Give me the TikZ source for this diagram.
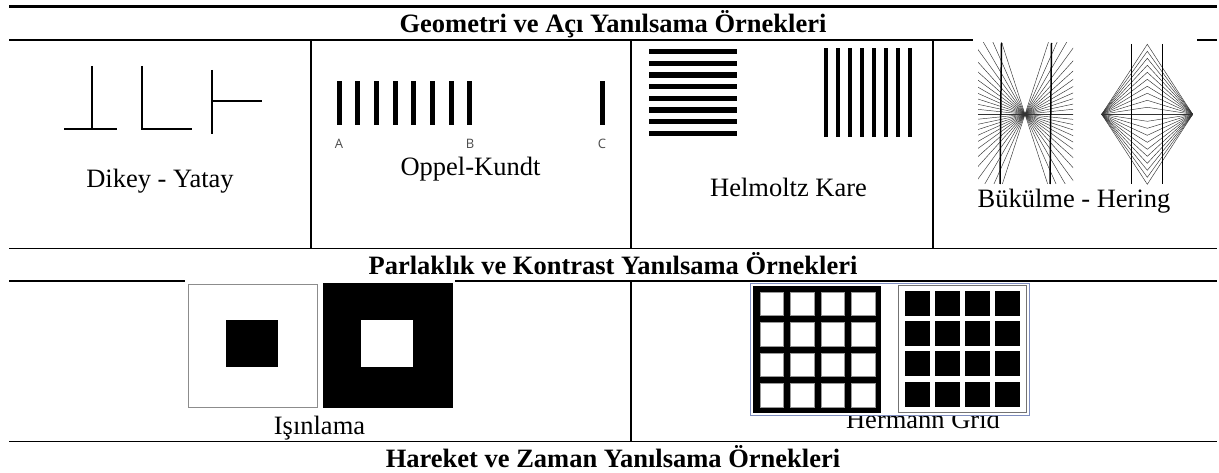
\documentclass[tikz,border=0pt]{standalone}
\usepackage{fontspec}
\setmainfont{Liberation Serif}
\newfontfamily\labfont{Open Sans}
\definecolor{hframe}{RGB}{125,140,190}
\begin{document}
\begin{tikzpicture}[x=1pt,y=-1pt,
  tabrule/.style={line width=1.7pt},
  tabvrule/.style={line width=1.5pt},
  hdrtxt/.style={anchor=base,inner sep=0pt,font=\fontsize{26.5}{30}\selectfont\bfseries},
  captxt/.style={anchor=base,inner sep=0pt,font=\fontsize{26.5}{30}\selectfont},
  abctxt/.style={anchor=base,inner sep=0pt,font=\labfont\fontsize{13}{15}\selectfont,text=black!70},
  fineline/.style={line width=0.45pt,black!80},
  strokeline/.style={line width=2pt},
  heavyline/.style={line width=1.5pt},
]
\useasboundingbox (0,0) rectangle (1219,473);
\fill[white] (0,0) rectangle (1219,473);

% table rules
\draw[line width=3pt] (9,6.5) -- (1217,6.5);
\draw[tabrule] (9,39.8) -- (1217,39.8);
\draw[tabrule] (9,248.4) -- (1217,248.4);
\draw[tabrule] (9,281) -- (1217,281);
\draw[tabrule] (9,441.5) -- (1217,441.5);
\draw[tabvrule] (311,39.8) -- (311,248.4) (631,39.8) -- (631,248.4) (933,39.8) -- (933,248.4) (631,281) -- (631,441.5);

% headers
\node[hdrtxt] (h1) at (613,33) {Geometri ve Açı Yanılsama Örnekleri};
\node[hdrtxt] (h2) at (613,274.3) {Parlaklık ve Kontrast Yanılsama Örnekleri};
\node[hdrtxt] (h3) at (613,467) {Hareket ve Zaman Yanılsama Örnekleri};

% Dikey - Yatay
\draw[strokeline] (64,129) -- (117,129) (92,66) -- (92,129);
\draw[strokeline] (142,66) -- (142,129) -- (192,129);
\draw[strokeline] (212,70) -- (212,134) (212,101) -- (262,101);
\node[captxt] (c1) at (160,188) {Dikey - Yatay};

% Oppel-Kundt
\foreach \i in {0,...,7} \fill ({339+18.7*\i-2.5},81) rectangle ++(5,44);
\fill (599.5,81) rectangle ++(5,44);
\node[abctxt] (la) at (339,148.3) {A};
\node[abctxt] (lb) at (470,148.3) {B};
\node[abctxt] (lc) at (602,148.3) {C};
\node[captxt] (c2) at (470.5,176) {Oppel-Kundt};

% Helmoltz
\foreach \i in {0,...,7} \fill (649,{51.7+11.66*\i-2.7}) rectangle ++(88,5.4);
\foreach \i in {0,...,7} \fill ({826+12*\i-2.3},48) rectangle ++(4.6,89);
\node[captxt] (c3) at (788.5,197) {Helmoltz Kare};

% Hering
\fill[white] (973,38) rectangle (1197,186);
\begin{scope}
\clip (978,43) rectangle (1073,184);
\foreach \a in {-72,-66,...,72} {
  \draw[fineline] (1025,114.3) -- ++(\a:150);
  \draw[fineline] (1025,114.3) -- ++(180+\a:150);
}
\end{scope}
\draw[heavyline] (1001.5,43) -- (1000,184) (1051.5,43) -- (1050,184);
\foreach \k in {-10,...,10} \draw[fineline] (1101.7,114.3) -- (1147.3,{114.3+7*\k}) -- (1192.7,114.3);
\draw[heavyline] (1131.7,44) -- (1131.7,184) (1162.7,44) -- (1162.7,184);
\node[captxt] (c4) at (1074,207.3) {Bükülme - Hering};

% Isinlama
\fill[white] (185,279.5) rectangle (455,410);
\draw[black!45,line width=0.8pt] (188.3,284) rectangle (317.7,407.7);
\fill (225.7,320) rectangle (277.7,366.7);
\fill (322.7,283.3) rectangle (453.3,408.3);
\fill[white] (361,320) rectangle (412.5,366.7);
\node[captxt] (c5) at (319.5,434.3) {Işınlama};

% Hermann grid
\node[captxt] (c6) at (923,428.3) {Hermann Grid};
\filldraw[fill=white,draw=hframe,line width=0.8pt] (750.7,283.3) rectangle (1029,415);
\fill (753.3,285.7) rectangle (881,413.3);
\foreach \i in {0,...,3} \foreach \j in {0,...,3}
  \filldraw[fill=white,draw=black!40,line width=0.4pt] ({759.8+30.5*\i},{292+30.5*\j}) rectangle ++(23.5,23.5);
\draw[black!55,line width=0.8pt] (898.3,285) rectangle (1026.7,412.7);
\foreach \i in {0,...,3} \foreach \j in {0,...,3}
  \fill ({905+30*\i},{290.7+30.3*\j}) rectangle ++(24.5,25);
\end{tikzpicture}
\end{document}
